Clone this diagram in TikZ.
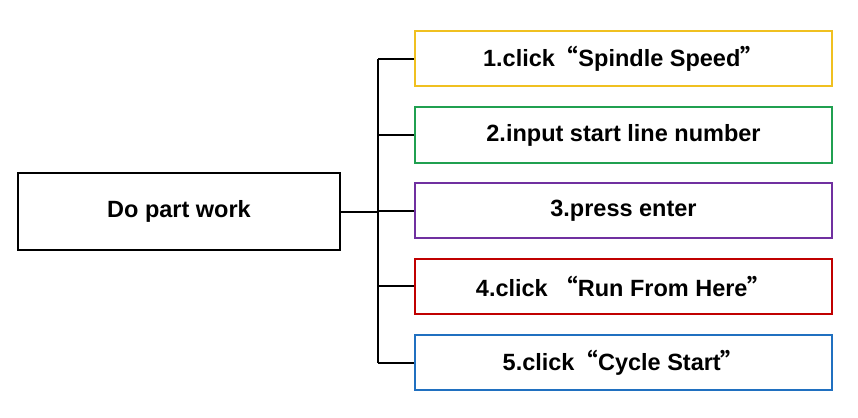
\documentclass[tikz,border=0pt]{standalone}
\usepackage{fontspec}
\setmainfont{Liberation Sans}
\newfontfamily\cjkq{Noto Sans CJK SC}
\newcommand{\myLq}{{\cjkq “}}
\newcommand{\myRq}{{\cjkq ”}}
\definecolor{cy}{HTML}{F0C020}
\definecolor{cg}{HTML}{20A050}
\definecolor{cp}{HTML}{7030A0}
\definecolor{cr}{HTML}{C00000}
\definecolor{cb}{HTML}{2070C0}
\begin{document}
\begin{tikzpicture}[x=1pt,y=-1pt,
  box/.style={draw,line width=2pt,minimum width=417pt,minimum height=55pt,font=\fontsize{23.5}{26}\selectfont\bfseries,inner sep=0pt},
  ln/.style={line width=2pt}]
\useasboundingbox (0,0) rectangle (858,417);
\node[draw,line width=2pt,minimum width=322pt,minimum height=77pt,font=\fontsize{23.5}{26}\selectfont\bfseries] (m) at (179,211.5) {Do part work};
\node[box,draw=cy] (a) at (623.5,59) {1.click\myLq Spindle Speed\myRq};
\node[box,draw=cg] (b) at (623.5,135) {2.input start line number};
\node[box,draw=cp] (c) at (623.5,210.5) {3.press enter};
\node[box,draw=cr] (d) at (623.5,286) {4.click \myLq Run From Here\myRq};
\node[box,draw=cb] (e) at (623.5,362.5) {5.click\myLq Cycle Start\myRq};
\coordinate (j) at (378,211.5);
\draw[ln] (m.east) -- (j);
\foreach \n in {a,b,c,d,e}{\draw[ln] (j |- \n.west) -- (\n.west);}
\draw[ln] (j |- a.west) -- (j |- e.west);
\end{tikzpicture}
\end{document}
